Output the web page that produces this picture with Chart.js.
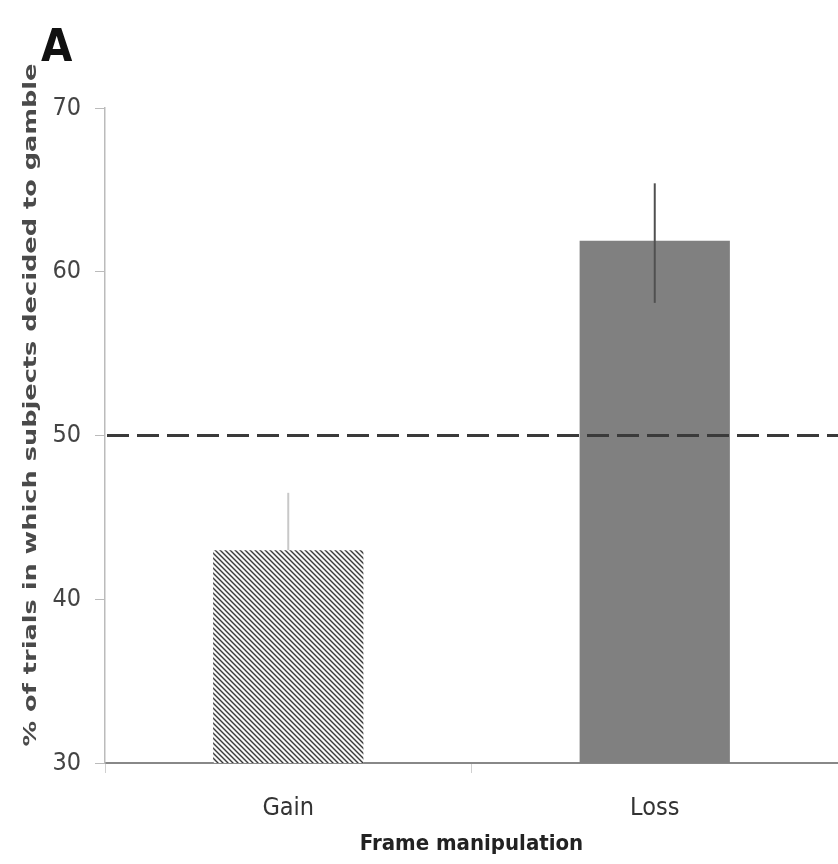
<!DOCTYPE html>
<html><head><meta charset="utf-8">
<script src="https://cdn.jsdelivr.net/npm/chart.js@4.4.1/dist/chart.umd.min.js"></script>
<style>html,body{margin:0;padding:0;background:#fff}#wrap{width:838px;height:864px;position:relative}</style>
</head><body><div id="wrap"><canvas id="c" width="838" height="864"></canvas></div>
<script>
const categories = ["Gain", "Loss"];
const values = [43.0, 61.9];
const errLow = [43.0, 58.1];
const errHigh = [46.5, 65.4];
const referenceValue = 50;
const yTicks = [30, 40, 50, 60, 70];
const yTitle = "% of trials in which subjects decided to gamble";
const xTitle = "Frame manipulation";
const panelLabel = "A";

const COND = '"DejaVu Sans Condensed", "DejaVu Sans", sans-serif';

function hatch() {
  const n = 5;
  const p = document.createElement('canvas');
  p.width = n; p.height = n;
  const g = p.getContext('2d');
  g.fillStyle = '#f8f8f8'; g.fillRect(0,0,n,n);
  g.strokeStyle = '#3a3a3a'; g.lineWidth = 1.4;
  g.beginPath();
  g.moveTo(-1,-1); g.lineTo(n+1,n+1);
  g.moveTo(-1,n-1); g.lineTo(1,n+1);
  g.moveTo(n-1,-1); g.lineTo(n+1,1);
  g.stroke();
  return g.createPattern(p, 'repeat');
}

const extras = {
  id: 'extras',
  afterDatasetsDraw(chart) {
    const {ctx, scales:{x,y}, chartArea} = chart;
    ctx.save();
    const errColors = ['#c8c8c8', '#505050'];
    categories.forEach((c,i) => {
      const px = x.getPixelForValue(i);
      ctx.strokeStyle = errColors[i];
      ctx.lineWidth = 2;
      ctx.beginPath();
      ctx.moveTo(px, y.getPixelForValue(i === 0 ? values[i] : errLow[i]));
      ctx.lineTo(px, y.getPixelForValue(errHigh[i]));
      ctx.stroke();
    });
    const ry = y.getPixelForValue(referenceValue);
    ctx.strokeStyle = '#3a3a3a';
    ctx.lineWidth = 3;
    ctx.setLineDash([22, 8]);
    ctx.beginPath();
    ctx.moveTo(chartArea.left + 2, ry);
    ctx.lineTo(chartArea.right, ry);
    ctx.stroke();
    ctx.setLineDash([]);
    ctx.restore();
  },
  afterDraw(chart) {
    const {ctx} = chart;
    ctx.save();
    ctx.fillStyle = '#111';
    ctx.font = 'bold 45px ' + COND;
    ctx.textBaseline = 'alphabetic';
    ctx.fillText(panelLabel, 41, 61);
    ctx.restore();

    ctx.save();
    ctx.translate(31, 405);
    ctx.rotate(-Math.PI/2);
    ctx.textAlign = 'center';
    ctx.textBaseline = 'middle';
    ctx.fillStyle = '#4a4a4a';
    ctx.font = 'bold 18px "DejaVu Sans", sans-serif';
    const w = ctx.measureText(yTitle).width;
    ctx.scale(683 / w, 1);
    ctx.fillText(yTitle, 0, 0);
    ctx.restore();
  }
};

new Chart(document.getElementById('c'), {
  type: 'bar',
  data: {
    labels: categories,
    datasets: [{
      data: values,
      backgroundColor: [hatch(), '#808080'],
      borderWidth: 0,
      categoryPercentage: 1,
      barPercentage: 0.41
    }]
  },
  options: {
    responsive: false,
    animation: false,
    devicePixelRatio: 1,
    layout: { padding: { top: 108, left: 0, right: 0, bottom: 0 } },
    plugins: { legend: { display: false }, tooltip: { enabled: false } },
    scales: {
      x: {
        offset: true,
        grid: { offset: true, drawOnChartArea: false, drawTicks: true, tickLength: 10, tickColor: '#d0d0d0' },
        border: { color: '#888', width: 2 },
        ticks: { color: '#333', padding: 20, font: { family: COND, size: 25 } },
        title: { display: true, text: xTitle, color: '#222', padding: { top: 0, bottom: 7 },
          font: { family: COND, size: 22, weight: 'bold' } },
        afterFit(s) { s.height = 101; }
      },
      y: {
        min: 30, max: 70,
        afterBuildTicks(s) { s.ticks = yTicks.map(v => ({ value: v })); },
        grid: { drawOnChartArea: false, drawTicks: true, tickLength: 10, tickColor: '#bbbbbb' },
        border: { color: '#bbbbbb', width: 1.5 },
        ticks: { color: '#444', padding: 14, font: { family: COND, size: 25 } },
        afterFit(s) { s.width = 105; }
      }
    }
  },
  plugins: [extras]
});
</script></body></html>
